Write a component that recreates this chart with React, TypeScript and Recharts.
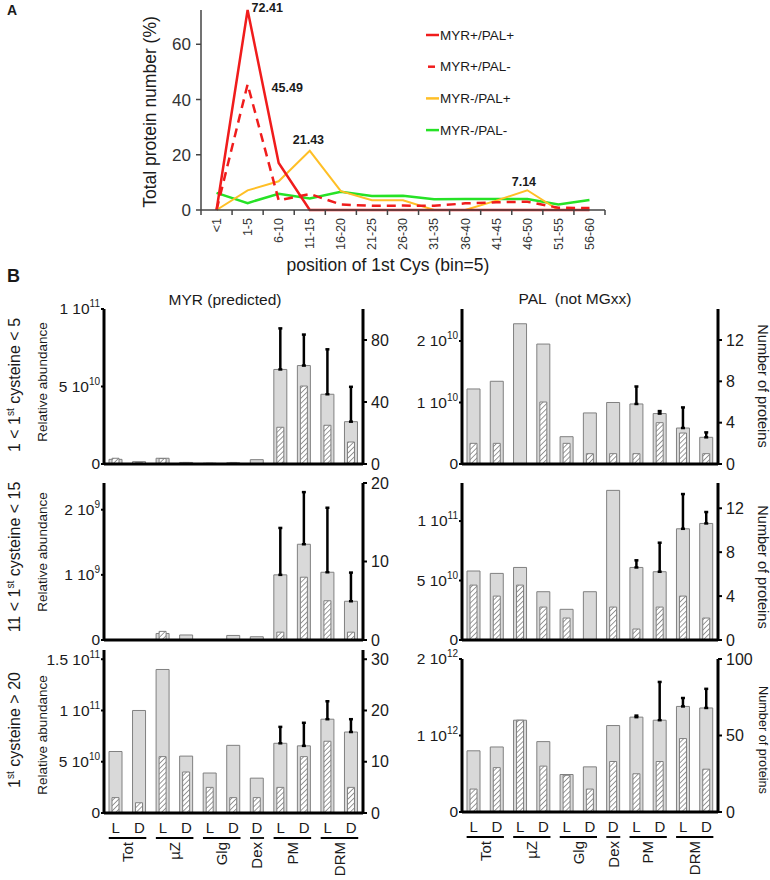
import React from 'react';
import { LineChart, Line, BarChart, Bar, XAxis, YAxis, ErrorBar } from 'recharts';

// panel A: % of proteins by position of the first cysteine
const cysBins = ['<1', '1-5', '6-10', '11-15', '16-20', '21-25', '26-30', '31-35', '36-40', '41-45', '46-50', '51-55', '56-60'];
const myrPalPos = [0, 72.41, 17, 0, 0, 0, 0, 0, 0, 0, 0, 0, 0];
const myrPalNeg = [0, 45.49, 3.5, 5.8, 2.0, 1.5, 1.6, 1.5, 2.4, 2.8, 3.0, 0.8, 0.7];
const noMyrPalPos = [0, 7.1, 10.4, 21.43, 6.8, 3.5, 3.5, 0, 0, 3.4, 7.14, 0, 0];
const noMyrPalNeg = [6.2, 2.5, 5.9, 4.2, 6.6, 5.1, 5.2, 3.9, 4.0, 4.0, 4.0, 2.0, 3.6];

// panel B: fractions (light / dark)
const fractions = ['Tot', 'Tot', 'µZ', 'µZ', 'Glg', 'Glg', 'Dex', 'PM', 'PM', 'DRM', 'DRM'];
const conditions = ['L', 'D', 'L', 'D', 'L', 'D', 'D', 'L', 'D', 'L', 'D'];

// 1 < 1st cys < 5
const myrLowAbund = [3e9, 1.5e9, 3.7e9, 1.0e9, 0.5e9, 0.8e9, 2.8e9, 6.1e10, 6.35e10, 4.5e10, 2.73e10];
const myrLowErr = [null, null, null, null, null, null, null, 2.65e10, 2.0e10, 2.9e10, 2.25e10];
const myrLowCount = [3.7, 1, 3.5, 1, 0.5, 1, 0, 23.7, 50.3, 25, 14.2];
const palLowAbund = [1.22e10, 1.345e10, 2.28e10, 1.95e10, 0.444e10, 0.83e10, 1.0e10, 0.976e10, 0.82e10, 0.585e10, 0.434e10];
const palLowErr = [null, null, null, null, null, null, null, 0.284e10, 0.04e10, 0.335e10, 0.08e10];
const palLowCount = [2, 2, 0, 6, 2, 1, 1, 1, 4, 3, 1];

// 11 < 1st cys < 15
const myrMidAbund = [0, 0, 0.1e9, 0.077e9, 0, 0.07e9, 0.05e9, 1.0e9, 1.47e9, 1.04e9, 0.595e9];
const myrMidErr = [null, null, null, null, null, null, null, 0.72e9, 0.8e9, 0.99e9, 0.44e9];
const myrMidCount = [0, 0, 1.1, 0, 0, 0, 0, 1, 8, 5, 1];
const palMidAbund = [5.8e10, 5.6e10, 6.1e10, 4.06e10, 2.58e10, 4.06e10, 1.258e11, 6.1e10, 5.74e10, 9.35e10, 9.8e10];
const palMidErr = [null, null, null, null, null, null, null, 0.6e10, 2.44e10, 2.92e10, 0.96e10];
const palMidCount = [5, 4, 5, 3, 2, 0, 3, 1, 3, 4, 2];

// 1st cys > 20
const myrHighAbund = [6e10, 1.0e11, 1.4e11, 5.55e10, 3.9e10, 6.6e10, 3.4e10, 6.8e10, 6.55e10, 9.15e10, 7.9e10];
const myrHighErr = [null, null, null, null, null, null, null, 1.6e10, 2.25e10, 1.75e10, 1.25e10];
const myrHighCount = [3, 2, 11, 8, 5, 3, 3, 5, 11, 14, 5];
const palHighAbund = [0.8e12, 0.85e12, 1.2e12, 0.92e12, 0.49e12, 0.59e12, 1.13e12, 1.24e12, 1.2e12, 1.38e12, 1.36e12];
const palHighErr = [null, null, null, null, null, null, null, 0.02e12, 0.5e12, 0.11e12, 0.25e12];
const palHighCount = [15, 29, 60, 30, 24, 15, 33, 25, 33, 48, 28];

const FONT = '"Liberation Sans", Arial, Helvetica, sans-serif';
const INK = '#1a1a1a';
const RED = '#f01c1c';
const ORANGE = '#ffbf26';
const GREEN = '#26e226';

const lineRows = cysBins.map((bin, i) => ({
  bin,
  pp: myrPalPos[i],
  pn: myrPalNeg[i],
  np: noMyrPalPos[i],
  nn: noMyrPalNeg[i],
}));

const BIN_W = 404 / cysBins.length;

const BinTick = (props: any) => {
  const { x, y, payload, index } = props;
  const last = index === cysBins.length - 1;
  return (
    <g>
      <line x1={x - BIN_W / 2} x2={x - BIN_W / 2} y1={y} y2={y + 5} stroke="#444" strokeWidth={1.5} />
      {last && <line x1={x + BIN_W / 2} x2={x + BIN_W / 2} y1={y} y2={y + 5} stroke="#444" strokeWidth={1.5} />}
      <text transform={`translate(${x},${y + 8}) rotate(-90)`} textAnchor="end" dy="0.35em" fontSize={12.5} fill="#333">
        {payload.value}
      </text>
    </g>
  );
};

const peakDot = (offsets: Record<number, number[]>) => (props: any) => {
  const { cx, cy, index, value } = props;
  const off = offsets[index];
  if (!off || cx == null) return <g key={`d${index}`} />;
  return (
    <text key={`d${index}`} x={cx + off[0]} y={cy + off[1]} fontSize={12.5} fontWeight="bold" fill={INK}>
      {Number(value).toFixed(2)}
    </text>
  );
};

const SciTick = (props: any) => {
  const { x, y, payload } = props;
  const v = payload.value;
  if (!v) {
    return (
      <text x={x} y={y} dy="0.35em" textAnchor="end" fontSize={15.5} fill={INK}>0</text>
    );
  }
  const e = Math.floor(Math.log10(v) + 1e-9);
  const m = +(v / Math.pow(10, e)).toFixed(2);
  return (
    <text x={x} y={y} dy="0.35em" textAnchor="end" fontSize={15.5} fill={INK}>
      {`${m} 10`}
      <tspan fontSize={10} dy={-7}>{e}</tspan>
    </text>
  );
};

const FractionTick = (props: any) => {
  const { x, y, index, band } = props;
  const f = fractions[index];
  const starts = index === 0 || fractions[index - 1] !== f;
  let span = 1;
  while (fractions[index + span] === f) span++;
  const x1 = x - 7;
  const x2 = x + (span - 1) * band + 7;
  const mid = (x1 + x2) / 2;
  return (
    <g>
      <text x={x} y={y + 15} dy="0.35em" textAnchor="middle" fontSize={15} fill={INK}>{conditions[index]}</text>
      {starts && <line x1={x1} x2={x2} y1={y + 25} y2={y + 25} stroke="#000" strokeWidth={1.8} />}
      {starts && (
        <text transform={`translate(${mid},${y + 29}) rotate(-90)`} textAnchor="end" dy="0.35em" fontSize={15} fill={INK}>
          {f}
        </text>
      )}
    </g>
  );
};

type PanelProps = {
  id: string;
  left: number;
  top: number;
  plotW: number;
  plotH: number;
  abund: number[];
  err: (number | null)[];
  count: number[];
  leftDomain: number[];
  leftTicks: number[];
  rightDomain: number[];
  rightTicks: number[];
  withLabels?: boolean;
};

const PAD_T = 16;
const PAD_B = 10;
const SIDE = 60;

function BarPanel(p: PanelProps) {
  const rows = fractions.map((f, i) => ({ slot: i, abund: p.abund[i], err: p.err[i], count: p.count[i] }));
  const band = p.plotW / fractions.length;
  const xH = p.withLabels ? 64 : 2;
  return (
    <div style={{ position: 'absolute', left: p.left - SIDE, top: p.top - PAD_T }}>
      <BarChart
        width={p.plotW + 2 * SIDE}
        height={p.plotH + PAD_T + xH + PAD_B}
        data={rows}
        margin={{ top: PAD_T, right: 0, bottom: PAD_B, left: 0 }}
      >
        <defs>
          <pattern id={p.id} patternUnits="userSpaceOnUse" width={3.6} height={3.6} patternTransform="rotate(45)">
            <rect width={3.6} height={3.6} fill="#fff" />
            <line x1={0} y1={0} x2={0} y2={3.6} stroke="#7a7a7a" strokeWidth={1.5} />
          </pattern>
        </defs>
        <XAxis
          xAxisId="a"
          dataKey="slot"
          type="category"
          height={xH}
          interval={0}
          tickLine={false}
          tickSize={0}
          tickMargin={0}
          axisLine={{ stroke: '#000', strokeWidth: 3 }}
          tick={p.withLabels ? (t: any) => <FractionTick {...t} band={band} /> : false}
        />
        <XAxis xAxisId="b" dataKey="slot" type="category" hide />
        <YAxis
          yAxisId="L"
          width={SIDE}
          domain={p.leftDomain}
          ticks={p.leftTicks}
          allowDataOverflow
          interval={0}
          tickSize={3}
          tickMargin={1}
          tickLine={{ stroke: '#000', strokeWidth: 2 }}
          axisLine={{ stroke: '#000', strokeWidth: 3 }}
          tick={(t: any) => <SciTick {...t} />}
        />
        <YAxis
          yAxisId="R"
          orientation="right"
          width={SIDE}
          domain={p.rightDomain}
          ticks={p.rightTicks}
          allowDataOverflow
          interval={0}
          tickSize={4}
          tickMargin={4}
          tickLine={{ stroke: '#000', strokeWidth: 2 }}
          axisLine={{ stroke: '#000', strokeWidth: 3 }}
          tick={{ fill: INK, fontSize: 16 }}
        />
        <Bar xAxisId="a" yAxisId="L" dataKey="abund" barSize={13} fill="#d9d9d9" stroke="#808080" strokeWidth={1} isAnimationActive={false}>
          <ErrorBar
            dataKey={(d: any) => (d.err == null ? null : [0, d.err])}
            direction="y"
            width={2}
            stroke="#000"
            strokeWidth={2.5}
            isAnimationActive={false}
          />
        </Bar>
        <Bar xAxisId="b" yAxisId="R" dataKey="count" barSize={7} fill={`url(#${p.id})`} stroke="#808080" strokeWidth={1} isAnimationActive={false} />
      </BarChart>
    </div>
  );
}

const legendItems = [
  { label: 'MYR+/PAL+', color: RED, dashed: false },
  { label: 'MYR+/PAL-', color: RED, dashed: true },
  { label: 'MYR-/PAL+', color: ORANGE, dashed: false },
  { label: 'MYR-/PAL-', color: GREEN, dashed: false },
];

const RowTitle = ({ x, y, lead, rest }: { x: number; y: number; lead: string; rest: string }) => (
  <text transform={`translate(${x},${y}) rotate(-90)`} textAnchor="middle" dy="0.35em" fontSize={16}>
    <tspan>{lead}</tspan>
    <tspan fontSize={10} dy={-6}>st</tspan>
    <tspan dy={6}>{rest}</tspan>
  </text>
);

export default function App() {
  return (
    <div style={{ position: 'absolute', left: 0, top: 0, width: 770, height: 880, background: '#fff', fontFamily: FONT }}>
      <div style={{ position: 'absolute', left: 0, top: 0 }}>
        <LineChart width={770} height={280} data={lineRows} margin={{ top: 10, right: 165, bottom: 0, left: 141 }}>
          <XAxis
            dataKey="bin"
            height={70}
            interval={0}
            padding={{ left: BIN_W / 2, right: BIN_W / 2 }}
            tickLine={false}
            tickSize={0}
            tickMargin={0}
            axisLine={{ stroke: '#444', strokeWidth: 1.5 }}
            tick={(t: any) => <BinTick {...t} />}
          />
          <YAxis
            width={60}
            domain={[0, 72.41]}
            ticks={[0, 20, 40, 60]}
            interval={0}
            tickSize={5}
            tickMargin={5}
            tickLine={{ stroke: '#444', strokeWidth: 1.5 }}
            axisLine={{ stroke: '#444', strokeWidth: 1.5 }}
            tick={{ fill: '#333', fontSize: 17 }}
          />
          <Line dataKey="nn" stroke={GREEN} strokeWidth={2.5} dot={false} isAnimationActive={false} />
          <Line dataKey="np" stroke={ORANGE} strokeWidth={2} dot={peakDot({ 3: [-17, -6.4], 10: [-15.6, -4.3] })} isAnimationActive={false} />
          <Line dataKey="pn" stroke={RED} strokeWidth={2.5} strokeDasharray="9 6" dot={peakDot({ 1: [24, 7.3] })} isAnimationActive={false} />
          <Line dataKey="pp" stroke={RED} strokeWidth={2.5} dot={peakDot({ 1: [4, 2] })} isAnimationActive={false} />
        </LineChart>
      </div>

      <BarPanel id="h1" left={104} top={309} plotW={259} plotH={155} abund={myrLowAbund} err={myrLowErr} count={myrLowCount}
        leftDomain={[0, 1e11]} leftTicks={[0, 5e10, 1e11]} rightDomain={[0, 100]} rightTicks={[0, 40, 80]} />
      <BarPanel id="h2" left={462} top={309} plotW={256} plotH={155} abund={palLowAbund} err={palLowErr} count={palLowCount}
        leftDomain={[0, 2.52e10]} leftTicks={[0, 1e10, 2e10]} rightDomain={[0, 15]} rightTicks={[0, 4, 8, 12]} />
      <BarPanel id="h3" left={104} top={483} plotW={259} plotH={157} abund={myrMidAbund} err={myrMidErr} count={myrMidCount}
        leftDomain={[0, 2.41e9]} leftTicks={[0, 1e9, 2e9]} rightDomain={[0, 20]} rightTicks={[0, 10, 20]} />
      <BarPanel id="h4" left={462} top={483} plotW={256} plotH={157} abund={palMidAbund} err={palMidErr} count={palMidCount}
        leftDomain={[0, 1.32e11]} leftTicks={[0, 5e10, 1e11]} rightDomain={[0, 14.3]} rightTicks={[0, 4, 8, 12]} />
      <BarPanel id="h5" left={104} top={650} plotW={259} plotH={163} abund={myrHighAbund} err={myrHighErr} count={myrHighCount}
        leftDomain={[0, 1.59e11]} leftTicks={[0, 5e10, 1e11, 1.5e11]} rightDomain={[0, 31.8]} rightTicks={[0, 10, 20, 30]} withLabels />
      <BarPanel id="h6" left={462} top={659} plotW={256} plotH={153} abund={palHighAbund} err={palHighErr} count={palHighCount}
        leftDomain={[0, 2e12]} leftTicks={[0, 1e12, 2e12]} rightDomain={[0, 100]} rightTicks={[0, 50, 100]} withLabels />

      <svg width={770} height={880} style={{ position: 'absolute', left: 0, top: 0, pointerEvents: 'none' }} fontFamily={FONT} fill={INK}>
        <text x={7} y={15} fontSize={14} fontWeight="bold">A</text>
        <text x={7} y={282} fontSize={18} fontWeight="bold">B</text>

        <text transform="translate(150,112) rotate(-90)" textAnchor="middle" dy="0.35em" fontSize={17.5}>Total protein number (%)</text>
        <text x={388} y={265} textAnchor="middle" dy="0.35em" fontSize={17.5}>position of 1st Cys (bin=5)</text>

        {legendItems.map((it, i) => {
          const y = 35 + i * 31.7;
          return (
            <g key={it.label}>
              <line x1={it.dashed ? 428 : 426} x2={it.dashed ? 435 : 439} y1={y} y2={y} stroke={it.color} strokeWidth={2.5} />
              <text x={440} y={y} dy="0.35em" fontSize={13.5}>{it.label}</text>
            </g>
          );
        })}

        <text x={225} y={300} textAnchor="middle" dy="0.35em" fontSize={15.5}>MYR (predicted)</text>
        <text x={575} y={299} textAnchor="middle" dy="0.35em" fontSize={15.5} style={{ whiteSpace: 'pre' }}>PAL  (not MGxx)</text>

        <RowTitle x={14} y={385} lead="1 < 1" rest=" cysteine < 5" />
        <RowTitle x={14} y={557} lead="11 < 1" rest=" cysteine < 15" />
        <RowTitle x={14} y={730} lead="1" rest=" cysteine > 20" />

        <text transform="translate(42,382) rotate(-90)" textAnchor="middle" dy="0.35em" fontSize={13.5}>Relative abundance</text>
        <text transform="translate(42,552) rotate(-90)" textAnchor="middle" dy="0.35em" fontSize={13.5}>Relative abundance</text>
        <text transform="translate(42,735) rotate(-90)" textAnchor="middle" dy="0.35em" fontSize={13.5}>Relative abundance</text>

        <text transform="translate(763,386) rotate(90)" textAnchor="middle" dy="0.35em" fontSize={14.5}>Number of proteins</text>
        <text transform="translate(763,567) rotate(90)" textAnchor="middle" dy="0.35em" fontSize={14.5}>Number of proteins</text>
        <text transform="translate(763,740) rotate(90)" textAnchor="middle" dy="0.35em" fontSize={12.7}>Number of proteins</text>
      </svg>
    </div>
  );
}
